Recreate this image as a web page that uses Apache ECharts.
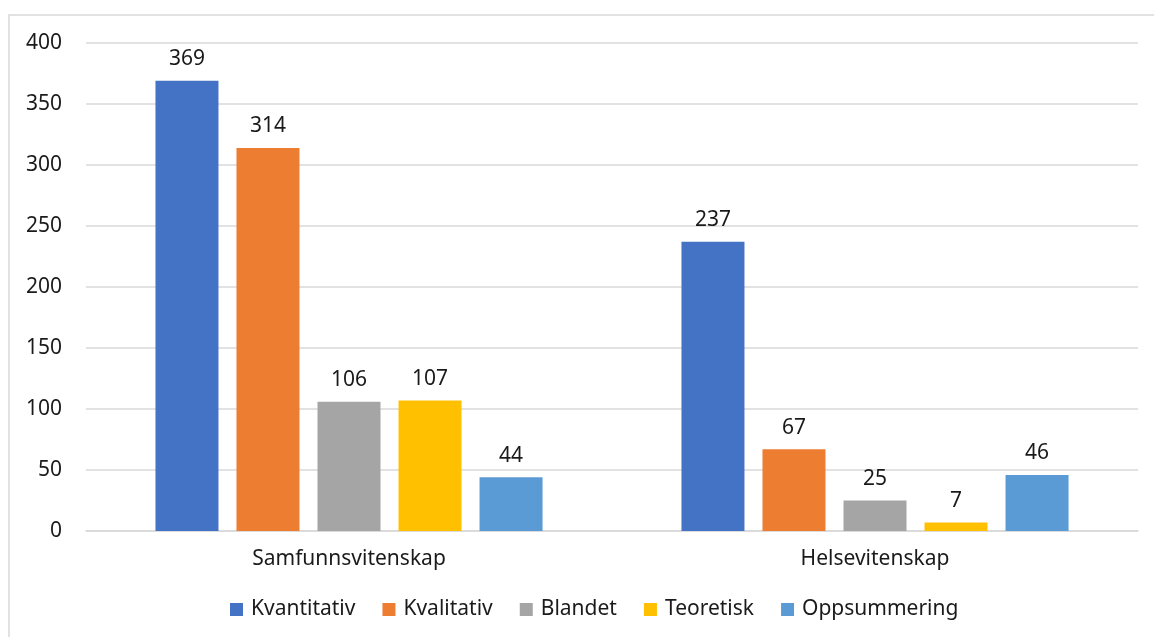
<!DOCTYPE html>
<html>
<head>
<meta charset="utf-8">
<script src="https://cdn.jsdelivr.net/npm/echarts@6/dist/echarts.min.js"></script>
<style>
  html, body { margin: 0; padding: 0; background: #fff; }
  #main { width: 1154px; height: 637px; }
</style>
</head>
<body>
<div id="main"></div>
<script>
const categories = ['Samfunnsvitenskap', 'Helsevitenskap'];
const kvantitativ = [369, 237];
const kvalitativ = [314, 67];
const blandet = [106, 25];
const teoretisk = [107, 7];
const oppsummering = [44, 46];

const font = '"Noto Sans", "Open Sans", sans-serif';

function bar(name, data, color) {
  return {
    name: name,
    type: 'bar',
    data: data,
    barWidth: 63,
    barGap: '28.6%',
    itemStyle: { color: color },
    label: {
      show: true,
      position: 'top',
      distance: 11,
      color: '#1a1a1a',
      fontSize: 21,
      fontFamily: font
    }
  };
}

const myChart = echarts.init(document.getElementById('main'));
const option = {
  animation: false,
  backgroundColor: '#fff',
  graphic: [{
    type: 'rect',
    shape: { x: 9, y: 15, width: 1160, height: 640 },
    style: { fill: 'none', stroke: '#d9d9d9', lineWidth: 1.5 },
    silent: true
  }],
  legend: {
    bottom: 12,
    left: 225,
    itemWidth: 13,
    itemHeight: 13,
    itemGap: 27,
    icon: 'rect',
    textStyle: { fontSize: 21, color: '#1a1a1a', fontFamily: font, padding: [0, 0, 0, 3] },
    data: ['Kvantitativ', 'Kvalitativ', 'Blandet', 'Teoretisk', 'Oppsummering']
  },
  grid: {
    left: 86,
    right: 16,
    top: 43,
    bottom: 106,
    containLabel: false
  },
  xAxis: {
    type: 'category',
    data: categories,
    axisLine: { lineStyle: { color: '#d9d9d9', width: 1.5 } },
    axisTick: { show: false },
    axisLabel: { fontSize: 21, color: '#1a1a1a', fontFamily: font, margin: 18 }
  },
  yAxis: {
    type: 'value',
    min: 0,
    max: 400,
    interval: 50,
    axisLine: { show: false },
    axisTick: { show: false },
    splitLine: { lineStyle: { color: '#d9d9d9', width: 1.5 } },
    axisLabel: { fontSize: 21, color: '#1a1a1a', fontFamily: font, margin: 24 }
  },
  series: [
    bar('Kvantitativ', kvantitativ, '#4472C4'),
    bar('Kvalitativ', kvalitativ, '#ED7D31'),
    bar('Blandet', blandet, '#A5A5A5'),
    bar('Teoretisk', teoretisk, '#FFC000'),
    bar('Oppsummering', oppsummering, '#5B9BD5')
  ]
};
myChart.setOption(option);
</script>
</body>
</html>
